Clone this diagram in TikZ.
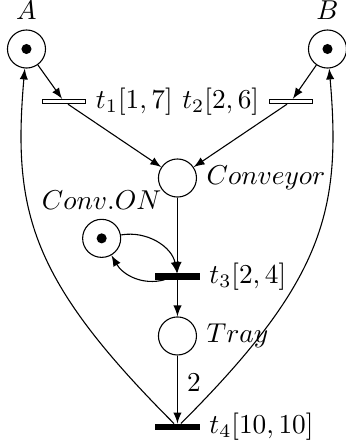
\documentclass[tikz,border=0pt]{standalone}
\usetikzlibrary{petri}
\begin{document}
\begin{tikzpicture}[>=latex,
  every place/.style={minimum size=4.9mm, inner sep=0pt},
  every token/.style={minimum size=1.3mm},
  every transition/.style={minimum width=5.6mm, minimum height=0.55mm, inner sep=0pt},
  blk/.style={fill=black, minimum height=0.75mm}]
\useasboundingbox (0,0) rectangle (4.455,5.717);
\node[place, tokens=1, label=above:$A$] (A) at (0.341,5.086) {};
\node[place, tokens=1, label=above:$B$] (B) at (4.217,5.086) {};
\node[transition, label=right:{$t_1[1,7]$}] (t1) at (0.824,4.410) {};
\node[transition, label=left:{$t_2[2,6]$}] (t2) at (3.747,4.410) {};
\node[place, label=right:$Conveyor$] (conv) at (2.285,3.425) {};
\node[place, tokens=1, label=above:$Conv.ON$] (on) at (1.309,2.648) {};
\node[transition, blk, label=right:{$t_3[2,4]$}] (t3) at (2.285,2.159) {};
\node[place, label=right:$Tray$] (tray) at (2.285,1.391) {};
\node[transition, blk, label=right:{$t_4[10,10]$}] (t4) at (2.285,0.219) {};
\draw[->] (A) -- (t1);
\draw[->] (B) -- (t2);
\draw[->] (t1) -- (conv);
\draw[->] (t2) -- (conv);
\draw[->] (conv) -- (t3);
\draw[->] (on) to[out=10, in=100] (t3);
\draw[->] (t3) to[out=195, in=-60] (on);
\draw[->] (t3) -- (tray);
\draw[->] (tray) -- node[right, pos=0.4] {2} (t4);
\draw[->] (t4) to[out=135, in=-95, out looseness=1.35, in looseness=0.95] (A);
\draw[->] (t4) to[out=45, in=-85, out looseness=1.35, in looseness=0.95] (B);
\end{tikzpicture}
\end{document}
